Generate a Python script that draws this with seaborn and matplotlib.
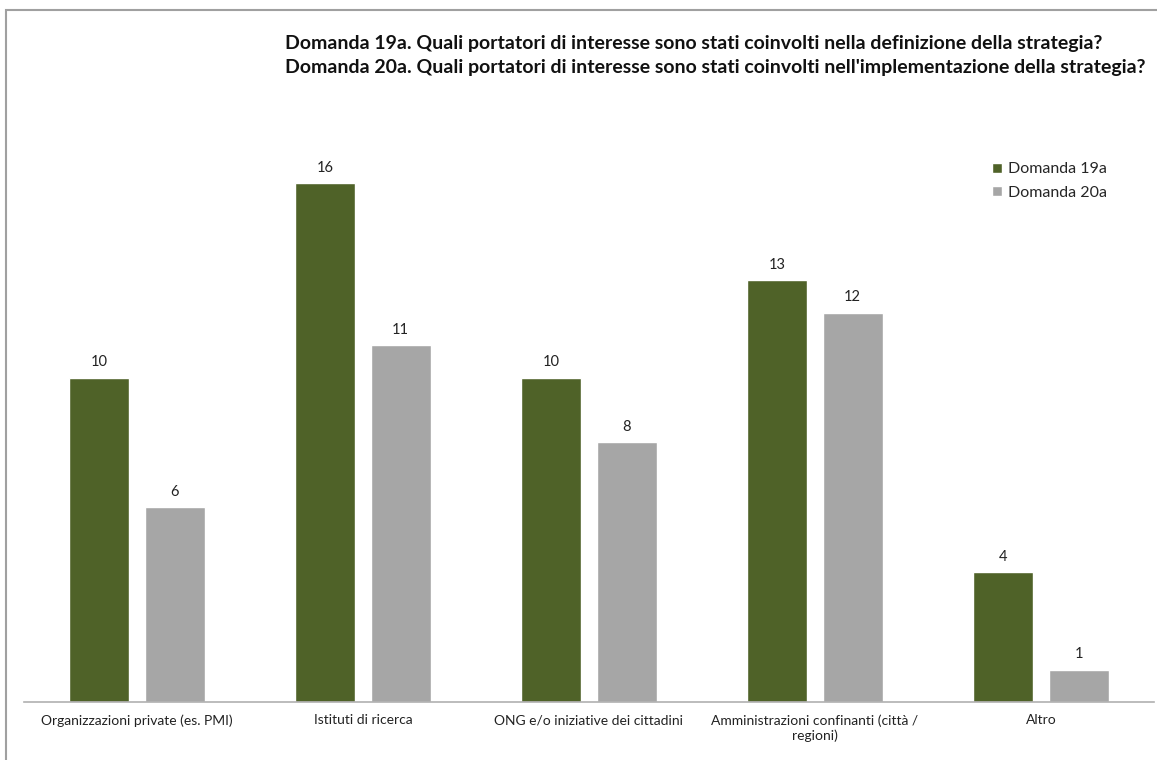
import pandas as pd
import matplotlib.pyplot as plt
import seaborn as sns
from matplotlib.patches import Rectangle

sns.set_style("white")
plt.rcParams['font.family'] = ['Lato', 'DejaVu Sans']

# Data
categories = ['Organizzazioni private (es. PMI)', 'Istituti di ricerca',
              'ONG e/o iniziative dei cittadini',
              'Amministrazioni confinanti (città /\nregioni)', 'Altro']
series = ['Domanda 19a', 'Domanda 20a']
d19 = [10, 16, 10, 13, 4]
d20 = [6, 11, 8, 12, 1]
colors = ['#4F6228', '#A6A6A6']

df = pd.DataFrame({
    'Categoria': categories * 2,
    'Serie': [series[0]] * len(categories) + [series[1]] * len(categories),
    'Valore': d19 + d20,
})

fig = plt.figure(figsize=(11.57, 7.6), dpi=100)
ax = fig.add_axes([24 / 1157, 1 - 702 / 760, 1130 / 1157, (702 - 118) / 760])

sns.barplot(data=df, x='Categoria', y='Valore', hue='Serie', palette=colors,
            width=0.664, gap=0.2, saturation=1, ax=ax)

for cont in ax.containers:
    ax.bar_label(cont, padding=6, fontsize=10.5, color='#222222')

ax.set_xlim(-0.5, 4.5)
ax.set_ylim(0, 18)
ax.set_xlabel('')
ax.set_ylabel('')
ax.set_yticks([])
ax.tick_params(axis='x', length=0, pad=9, labelsize=10, colors='#222222')
for s in ['top', 'right', 'left']:
    ax.spines[s].set_visible(False)
ax.spines['bottom'].set_color('#B0B0B0')
ax.spines['bottom'].set_linewidth(1.2)

leg = ax.legend(loc='upper left', bbox_to_anchor=(978 / 1157, 1 - 148 / 760),
                bbox_transform=fig.transFigure, frameon=False, fontsize=11.5,
                handlelength=0.6, handleheight=0.6, handletextpad=0.35,
                labelspacing=0.6)

fig.text(285 / 1157, 1 - 55 / 760,
         'Domanda 19a. Quali portatori di interesse sono stati coinvolti nella definizione della strategia?\n'
         "Domanda 20a. Quali portatori di interesse sono stati coinvolti nell'implementazione della strategia?",
         fontsize=14, fontweight='bold', va='center', ha='left', linespacing=1.5,
         color='#111111')

# outer frame
fig.patches.append(Rectangle((6 / 1157, -0.1), 1.2, 1 - 10 / 760 + 0.1,
                             transform=fig.transFigure, fill=False,
                             edgecolor='#A0A0A0', linewidth=1.5))

fig.savefig('out.png', dpi=100)
